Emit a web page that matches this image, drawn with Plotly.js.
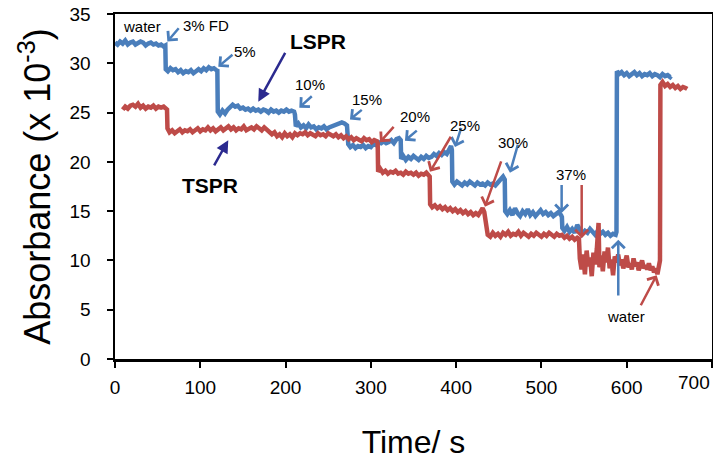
<!DOCTYPE html>
<html>
<head>
<meta charset="utf-8">
<script src="https://cdn.plot.ly/plotly-3.0.1.min.js"></script>
<style>html,body{margin:0;padding:0;background:#fff;}#chart{width:713px;height:460px;}</style>
</head>
<body>
<div id="chart"></div>
<script>
// ---- Data ----
const lsprTime = [0,3,6,9,12,15,18,21,24,27,30,33,36,39,42,45,48,51,54,57,59,
  59.5,62,65,68,71,74,77,80,83,86,89,92,95,98,101,104,107,110,113,116,119,120,
  120.5,123,126,129,132,135,138,141,144,147,150,153,156,159,162,165,168,171,174,177,180,183,186,189,192,195,198,201,204,207,210,211,
  212,215,218,221,224,227,230,233,236,239,242,245,248,251,254,257,260,263,266,269,272,
  273.5,276,279,282,285,288,291,294,297,300,303,306,309,312,315,318,321,324,327,330,333,335,
  335.5,338,341,344,347,350,353,356,359,362,365,368,371,374,377,380,383,386,389,392,394,395,
  395.5,398,401,404,407,410,413,416,419,422,425,428,431,434,437,440,443,446,449,452,455,457,
  457.5,460,463,466,469,472,475,478,481,484,487,490,493,496,499,502,505,508,511,514,517,520,523,524,
  524.5,527,530,533,536,539,542,545,548,551,554,557,560,563,566,569,572,575,578,581,584,587,588,
  588.5,591,594,597,600,603,606,609,612,615,618,621,624,627,630,633,636,639,642,645,648,651,652];
const lsprAbs = [32.1,31.9,32.2,32.0,32.3,31.9,32.1,32.2,31.9,32.0,32.2,32.1,31.8,32.0,32.1,31.9,32.0,31.8,31.9,31.7,31.8,
  29.4,29.2,29.5,29.3,29.4,29.1,29.3,29.0,29.2,29.1,29.3,29.0,29.2,29.4,29.2,29.5,29.3,29.6,29.4,29.5,29.3,29.4,
  25.1,24.8,25.2,24.9,25.3,25.6,25.8,25.6,25.7,25.4,25.5,25.3,25.4,25.2,25.4,25.2,25.3,25.1,25.3,25.2,25.0,25.3,25.1,25.2,25.0,25.2,25.1,25.3,25.1,25.2,25.1,24.8,
  23.6,23.9,23.5,23.7,23.4,23.8,23.5,23.6,23.3,23.5,23.4,23.6,23.3,23.5,23.6,23.7,23.8,23.9,24.0,23.9,23.7,
  21.8,21.5,21.7,21.4,21.6,21.5,21.7,21.4,21.6,21.5,21.8,21.7,22.0,21.9,22.1,21.9,22.0,22.2,21.9,22.3,22.4,22.2,
  20.3,20.6,20.2,20.5,20.3,20.6,20.4,20.2,20.5,20.3,20.6,20.4,20.5,20.8,20.6,20.9,20.7,21.0,20.8,21.3,21.6,21.2,
  18.0,17.7,18.0,17.8,17.6,17.9,17.7,18.0,17.8,17.6,17.9,17.7,17.8,17.6,17.9,17.7,17.8,17.6,17.9,18.3,18.5,18.2,
  15.0,14.7,15.1,14.6,15.3,14.8,14.5,15.0,14.7,15.2,14.6,14.9,14.5,14.8,15.1,14.7,14.9,14.6,14.8,14.5,14.7,14.9,14.6,14.4,
  13.3,13.0,13.4,12.9,13.2,12.8,13.6,13.1,12.7,13.0,12.8,13.2,12.9,12.6,13.0,12.7,12.9,12.6,12.8,12.5,12.7,12.6,12.9,
  29.2,28.9,29.1,28.8,29.0,28.7,28.9,29.1,28.8,29.0,28.7,28.9,28.8,29.0,28.7,28.9,28.8,28.6,28.9,28.7,28.8,28.6,28.7];

const tsprTime = [9,12,15,18,21,24,27,30,33,36,39,42,45,48,51,54,57,60,61,
  61.5,64,67,70,73,76,79,82,85,88,91,94,97,100,103,106,109,112,115,118,121,124,127,130,133,136,139,142,145,148,151,154,157,160,163,166,169,172,175,178,
  181,184,187,190,193,196,199,202,205,208,211,214,217,220,223,226,229,232,235,238,241,244,247,250,253,256,259,262,265,268,271,274,277,280,283,286,289,292,295,298,301,304,307,308,
  308.5,311,314,317,320,323,326,329,332,335,338,341,344,347,350,353,356,359,362,365,368,369,
  369.5,372,375,378,381,384,387,390,393,396,399,402,405,408,411,414,417,420,423,426,429,431,433,435,
  437,440,443,446,449,452,455,458,461,464,467,470,473,476,479,482,485,488,491,494,497,500,503,506,509,512,515,518,521,524,527,530,533,536,539,542,544,
  545,547,549,551,553,555,557,559,561,563,565,567,568,570,572,574,576,578,580,582,584,586,588,590,592,594,596,598,600,602,604,606,608,610,612,614,616,618,620,622,624,626,628,630,632,634,636,638,639,
  639.5,642,645,648,651,654,657,660,663,666,669,671];
const tsprAbs = [25.3,25.6,25.4,25.7,25.8,25.6,25.9,25.5,25.7,25.4,25.6,25.5,25.7,25.4,25.6,25.5,25.6,25.4,25.3,
  23.4,23.0,23.2,22.9,23.1,23.3,23.0,23.2,23.1,23.3,23.0,23.2,23.4,23.1,23.3,23.2,23.5,23.2,23.4,23.1,23.3,23.5,23.2,23.4,23.6,23.3,23.5,23.2,23.4,23.3,23.6,23.2,23.4,23.5,23.3,23.6,23.4,23.2,23.5,23.3,
  23.0,22.8,23.0,22.6,22.8,22.5,22.9,22.6,22.8,22.5,22.9,22.7,22.9,22.8,23.0,22.7,22.9,22.8,22.6,22.9,22.7,22.8,22.6,22.9,22.7,22.6,22.8,22.5,22.7,22.4,22.6,22.3,22.5,22.2,22.4,22.3,22.1,22.4,22.2,22.3,22.0,22.2,22.1,21.9,
  19.0,19.3,18.9,19.1,18.8,19.0,18.9,19.1,18.8,18.9,18.7,19.0,18.8,18.9,18.7,18.9,18.6,18.8,18.7,18.9,18.6,18.5,
  15.7,15.4,15.6,15.3,15.5,15.2,15.4,15.1,15.3,15.0,15.2,14.9,15.1,14.8,15.0,14.7,14.9,14.6,14.8,14.6,15.0,15.3,14.9,13.8,
  12.6,12.4,12.8,12.5,12.7,12.4,12.8,12.6,12.9,12.5,12.7,12.6,12.9,12.5,12.8,12.6,12.4,12.7,12.5,12.8,12.6,12.4,12.7,12.5,12.8,12.6,12.4,12.7,12.5,12.6,12.3,12.5,12.2,12.4,12.1,12.3,12.2,
  10.2,9.1,10.6,8.6,11.0,9.4,10.3,8.4,10.8,9.6,11.2,13.8,9.3,10.5,8.9,10.9,9.8,11.3,9.2,10.1,8.5,10.4,9.8,10.6,9.5,10.1,9.2,9.9,10.5,9.3,9.7,9.1,10.2,9.4,9.8,9.0,9.6,10.0,9.2,9.5,9.1,9.7,9.0,9.4,8.8,9.2,8.6,9.4,10.0,
  27.8,28.1,27.7,27.9,27.6,27.8,27.5,27.7,27.4,27.6,27.5,27.4];

// Labels placed on the chart: [text, time, absorbance]
const stepLabels = [
  ["water", 31.7, 33.7], ["3% FD", 106.7, 33.8], ["5%", 152.4, 31.2],
  ["10%", 228.6, 27.8], ["15%", 295.1, 26.3], ["20%", 351.8, 24.6],
  ["25%", 410.4, 23.7], ["30%", 467.0, 22.0], ["37%", 534.7, 18.7],
  ["water", 599.5, 4.3]
];
const seriesLabels = [["LSPR", 238.0, 32.2], ["TSPR", 111.4, 17.65]];
// Arrows: [tailTime, tailAbs, headTime, headAbs]
const blueArrows = [
  [76.2, 33.7, 61.4, 32.2], [139.5, 31.0, 121.1, 29.65], [232.5, 26.8, 216.1, 25.5],
  [291.1, 25.4, 275.5, 24.3], [355.6, 23.3, 340.0, 22.15], [406.5, 23.6, 398.7, 21.5],
  [472.9, 21.9, 463.1, 18.9], [523.7, 17.8, 523.7, 14.8], [590.1, 6.3, 590.1, 12.1]
];
const redArrows = [
  [328.3, 23.7, 310.7, 22.0], [394.8, 22.7, 369.3, 19.0], [453.4, 20.2, 433.8, 15.45],
  [547.2, 17.8, 547.2, 12.25], [615.6, 5.3, 635.1, 8.5]
];
const navyArrows = [[200.5, 31.2, 168.0, 26.1], [115.3, 19.5, 132.8, 22.2]];
const xTicks = [0, 100, 200, 300, 400, 500, 600, 700];
const xTickText = ["0", "100", "200", "300", "400", "500", "600", ""];
const lastXLabel = "700";
const yTicks = [0, 5, 10, 15, 20, 25, 30, 35];

// ---- Styles ----
const BLUE = "#4A7EBB", RED = "#BE4B48", NAVY = "#2B2A8F";
const FONT = "Arial, 'Liberation Sans', sans-serif";

const traces = [
  {x: lsprTime, y: lsprAbs, mode: "lines", line: {color: BLUE, width: 4.5}, name: "LSPR", showlegend: false},
  {x: tsprTime, y: tsprAbs, mode: "lines", line: {color: RED, width: 4.5}, name: "TSPR", showlegend: false}
];

const annotations = [];
function arrow(a, color, head, w) {
  annotations.push({x: a[2], y: a[3], ax: a[0], ay: a[1], xref: "x", yref: "y", axref: "x", ayref: "y",
    text: "", showarrow: true, arrowhead: head, arrowsize: 1, arrowwidth: w, arrowcolor: color, standoff: 0, startstandoff: 0});
}
blueArrows.forEach(a => arrow(a, BLUE, 4, 2.5));
redArrows.forEach(a => arrow(a, RED, 4, 2.5));
navyArrows.forEach(a => arrow(a, NAVY, 2, 2.5));
stepLabels.forEach(l => annotations.push({x: l[1], y: l[2], xref: "x", yref: "y", text: l[0], showarrow: false,
  font: {family: FONT, size: 15, color: "#000"}}));
seriesLabels.forEach(l => annotations.push({x: l[1], y: l[2], xref: "x", yref: "y", text: "<b>" + l[0] + "</b>", showarrow: false,
  font: {family: FONT, size: 21, color: "#000"}}));
// last x tick label, squeezed against the right edge as in the reference
annotations.push({x: 1, y: 0, xref: "paper", yref: "paper", xanchor: "right", yanchor: "top", yshift: -11,
  text: lastXLabel, showarrow: false, font: {family: FONT, size: 19, color: "#000"}});

const axisCommon = {showgrid: false, zeroline: false, showline: true, linecolor: "#000", linewidth: 2.5, mirror: true,
  ticks: "outside", ticklen: 6, tickwidth: 2, tickcolor: "#000", tickfont: {family: FONT, size: 19, color: "#000"}};

const layout = {
  width: 713, height: 460,
  margin: {l: 115, r: 1, t: 14, b: 101},
  paper_bgcolor: "#fff", plot_bgcolor: "#fff",
  showlegend: false,
  xaxis: Object.assign({}, axisCommon, {range: [0, 700], tickvals: xTicks, ticktext: xTickText, ticklabelstandoff: 4,
    title: {text: "Time/ s", font: {family: FONT, size: 32, color: "#000"}, standoff: 37}}),
  yaxis: Object.assign({}, axisCommon, {range: [0, 35], tickvals: yTicks, ticklabelstandoff: 12,
    title: {text: "Absorbance (x 10<sup>-3</sup>)", font: {family: FONT, size: 36, color: "#000"}, standoff: 8}}),
  annotations: annotations
};

Plotly.newPlot("chart", traces, layout, {displayModeBar: false, staticPlot: true});
</script>
</body>
</html>
